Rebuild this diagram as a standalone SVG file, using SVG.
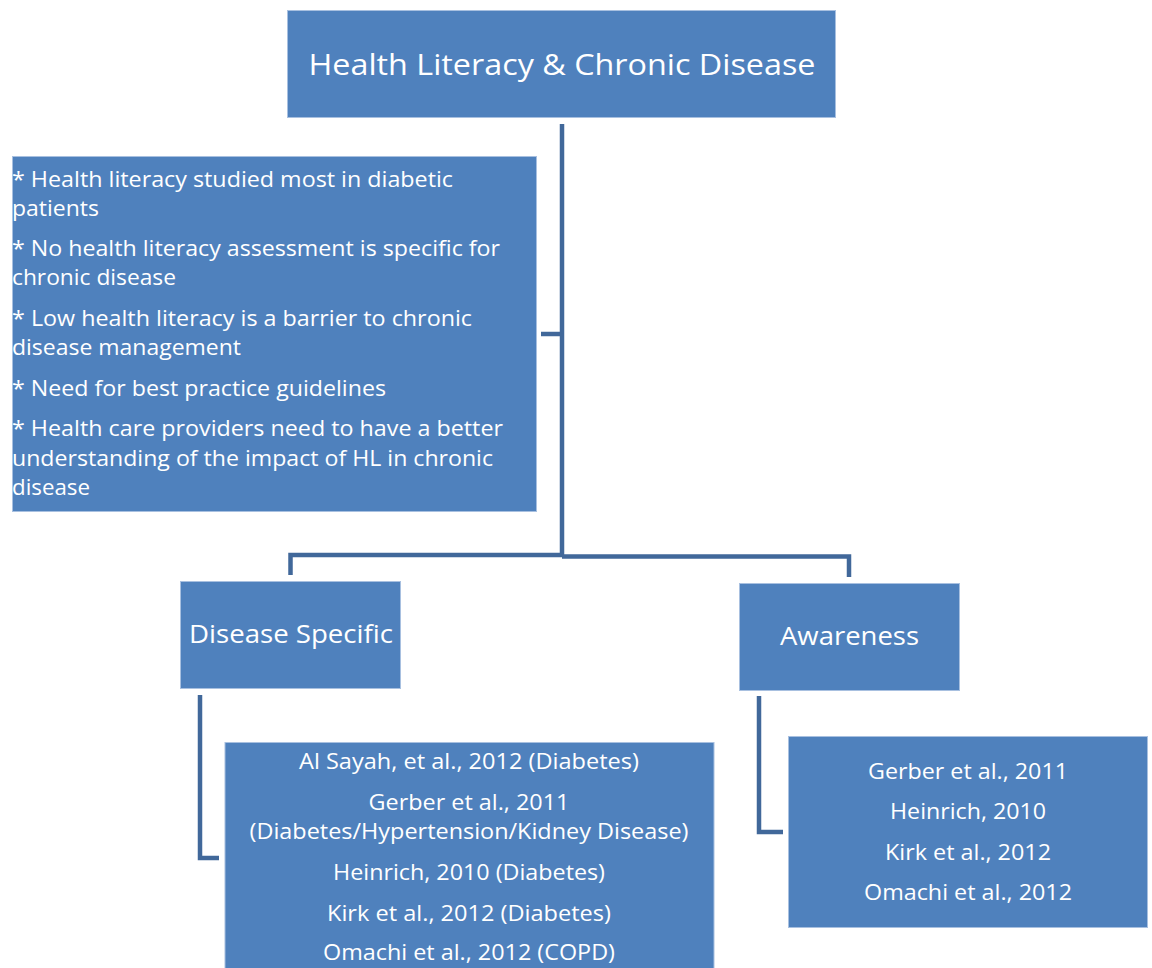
<svg xmlns="http://www.w3.org/2000/svg" width="1152" height="968" viewBox="0 0 1152 968">
<style>
.box{fill:#4f81bd;stroke:#a8c0e0;stroke-width:1}
.t{font-family:"Open Sans","Noto Sans","Liberation Sans",sans-serif;fill:#ffffff}
.c{text-anchor:middle}
.conn{fill:none;stroke:#41689a;stroke-width:4.5;stroke-linejoin:miter;stroke-linecap:butt}
</style>
<rect width="1152" height="968" fill="#ffffff"/>
<g id="connectors">
<path class="conn" d="M562,124 V555"/>
<path class="conn" d="M541,334 H562"/>
<path class="conn" d="M290.5,575 V555 H562"/>
<path class="conn" d="M562,556.5 H849 V577"/>
<path class="conn" d="M200,695 V858 H219"/>
<path class="conn" d="M759,696 V832 H783"/>
</g>
<g id="root">
<rect class="box" x="287.5" y="10.5" width="548" height="107"/>
<text class="t c" x="562" y="75" font-size="30" textLength="507" lengthAdjust="spacingAndGlyphs">Health Literacy &amp; Chronic Disease</text>
</g>
<g id="notes">
<rect class="box" x="12.5" y="156.5" width="524" height="355"/>
<g class="t" font-size="22.5">
<text x="12" y="187" textLength="441" lengthAdjust="spacingAndGlyphs">* Health literacy studied most in diabetic</text>
<text x="12" y="216" textLength="87" lengthAdjust="spacingAndGlyphs">patients</text>
<text x="12" y="256" textLength="488" lengthAdjust="spacingAndGlyphs">* No health literacy assessment is specific for</text>
<text x="12" y="285" textLength="164" lengthAdjust="spacingAndGlyphs">chronic disease</text>
<text x="12" y="326" textLength="460" lengthAdjust="spacingAndGlyphs">* Low health literacy is a barrier to chronic</text>
<text x="12" y="355" textLength="229" lengthAdjust="spacingAndGlyphs">disease management</text>
<text x="12" y="396" textLength="374" lengthAdjust="spacingAndGlyphs">* Need for best practice guidelines</text>
<text x="12" y="436" textLength="491" lengthAdjust="spacingAndGlyphs">* Health care providers need to have a better</text>
<text x="12" y="466" textLength="481" lengthAdjust="spacingAndGlyphs">understanding of the impact of HL in chronic</text>
<text x="12" y="495" textLength="78" lengthAdjust="spacingAndGlyphs">disease</text>
</g>
</g>
<g id="disease-specific">
<rect class="box" x="180.5" y="581.5" width="220" height="107"/>
<text class="t c" x="291" y="643" font-size="25.5" textLength="204" lengthAdjust="spacingAndGlyphs">Disease Specific</text>
</g>
<g id="awareness">
<rect class="box" x="739.5" y="583.5" width="220" height="107"/>
<text class="t c" x="849.5" y="645" font-size="25.5" textLength="139" lengthAdjust="spacingAndGlyphs">Awareness</text>
</g>
<g id="disease-specific-refs">
<rect class="box" x="225" y="742.5" width="489" height="240"/>
<g class="t c" font-size="22.5">
<text x="469" y="769" textLength="340" lengthAdjust="spacingAndGlyphs">Al Sayah, et al., 2012 (Diabetes)</text>
<text x="469" y="810" textLength="201" lengthAdjust="spacingAndGlyphs">Gerber et al., 2011</text>
<text x="469" y="839" textLength="439" lengthAdjust="spacingAndGlyphs">(Diabetes/Hypertension/Kidney Disease)</text>
<text x="469" y="880" textLength="272" lengthAdjust="spacingAndGlyphs">Heinrich, 2010 (Diabetes)</text>
<text x="469" y="921" textLength="284" lengthAdjust="spacingAndGlyphs">Kirk et al., 2012 (Diabetes)</text>
<text x="469" y="960" textLength="292" lengthAdjust="spacingAndGlyphs">Omachi et al., 2012 (COPD)</text>
</g>
</g>
<g id="awareness-refs">
<rect class="box" x="788.5" y="736.5" width="359" height="191"/>
<g class="t c" font-size="22.5">
<text x="968" y="779" textLength="200" lengthAdjust="spacingAndGlyphs">Gerber et al., 2011</text>
<text x="968" y="819" textLength="156" lengthAdjust="spacingAndGlyphs">Heinrich, 2010</text>
<text x="968" y="860" textLength="166" lengthAdjust="spacingAndGlyphs">Kirk et al., 2012</text>
<text x="968" y="900" textLength="208" lengthAdjust="spacingAndGlyphs">Omachi et al., 2012</text>
</g>
</g>
</svg>
